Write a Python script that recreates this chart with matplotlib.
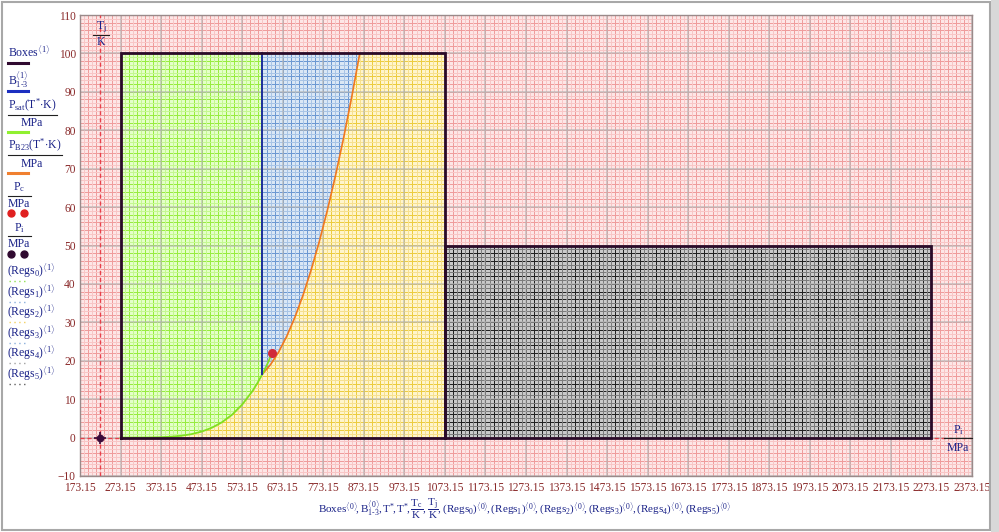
import numpy as np
import matplotlib
matplotlib.use("Agg")
import matplotlib.pyplot as plt
from matplotlib.patches import Polygon, Rectangle
from matplotlib.collections import LineCollection
from matplotlib.lines import Line2D

plt.rcParams['font.family'] = ['Liberation Serif', 'DejaVu Serif']
plt.rcParams['mathtext.fontset'] = 'custom'
plt.rcParams['mathtext.rm'] = 'Liberation Serif'
plt.rcParams['mathtext.it'] = 'Liberation Serif'
plt.rcParams['mathtext.bf'] = 'Liberation Serif:bold'

# ---------------- data ----------------
x_ticks = [173.15 + 100 * i for i in range(23)]
y_ticks = list(range(-10, 111, 10))

# saturation line (T [K], P [MPa])
psat_T = [273.15, 298.15, 323.15, 348.15, 373.15, 398.15, 423.15, 448.15, 473.15,
          498.15, 523.15, 548.15, 573.15, 598.15, 610.15, 623.15, 635.15, 647.096]
psat_P = [0.0006, 0.0032, 0.0124, 0.0386, 0.1014, 0.2321, 0.4762, 0.8926, 1.555,
          2.550, 3.976, 5.942, 8.588, 12.045, 14.08, 16.529, 19.13, 22.064]

# B23 boundary
b23_T = [623.15, 643.15, 663.15, 683.15, 703.15, 723.15, 743.15, 763.15, 783.15,
         803.15, 823.15, 843.15, 863.15]
b23_P = [16.53, 19.01, 22.29, 26.39, 31.30, 37.04, 43.59, 50.95, 59.13,
         68.12, 77.93, 88.56, 100.0]

# boxes: (Tmin, Tmax, Pmin, Pmax)
box_low = (273.15, 1073.15, 0.0, 100.0)
box_high = (1073.15, 2273.15, 0.0, 50.0)
T_13 = 623.15             # region 1/3 boundary temperature
P_13 = 16.529
crit = (647.096, 22.064)  # critical point
pt_i = (223.15, 0.0)      # marked point

# ---------------- figure ----------------
W, H = 999, 532
fig = plt.figure(figsize=(W / 100, H / 100), dpi=100)
fig.patch.set_facecolor('white')
ax = fig.add_axes([80 / W, (H - 476) / H, (972 - 80) / W, (476 - 15) / H])
ax.set_xlim(173.15, 2373.15)
ax.set_ylim(-10, 110)
ax.set_facecolor('#fde4e4')

xlo, xhi = 173.15, 2373.15
ylo, yhi = -10, 110


def textured(poly_xy, base, line_col, line_col2, z=1):
    patch = Polygon(poly_xy, closed=True, facecolor=base, edgecolor='none', zorder=z)
    ax.add_patch(patch)
    segs1, segs2 = [], []
    for i, xv in enumerate(np.arange(xlo + 0.01, xhi, 10.0)):
        (segs1 if i % 2 == 0 else segs2).append([(xv, ylo), (xv, yhi)])
    for i, yv in enumerate(np.arange(ylo + 0.01, yhi, 1.0)):
        (segs1 if i % 2 == 0 else segs2).append([(xlo, yv), (xhi, yv)])
    for segs, c in ((segs1, line_col), (segs2, line_col2)):
        lc = LineCollection(segs, colors=c, linewidths=0.72, zorder=z + 0.1,
                            antialiaseds=False)
        ax.add_collection(lc)
        lc.set_clip_path(patch)


# background texture
bg = [(xlo, ylo), (xhi, ylo), (xhi, yhi), (xlo, yhi)]
textured(bg, '#fde6e6', '#ef9c9c', '#f8c6c6', z=0.5)

# green region (region 1): above saturation line
green = [(box_low[0], box_low[3])]
green += [(t, p) for t, p in zip(psat_T, psat_P) if t <= T_13]
green += [(T_13, box_low[3])]
textured(green, '#e4ffc8', '#98ec40', '#c4f890', z=1)

# blue region (region 3)
blue = [(T_13, box_low[3])] + [(t, p) for t, p in zip(b23_T, b23_P)]
textured(blue, '#dae7f5', '#6c98d2', '#a8c4e6', z=1)

# yellow region (region 2)
yellow = [(box_low[0], 0.0)]
yellow += [(t, p) for t, p in zip(psat_T, psat_P) if t < T_13]
yellow += [(t, p) for t, p in zip(b23_T, b23_P)]
yellow += [(box_low[1], box_low[3]), (box_low[1], 0.0)]
textured(yellow, '#fff5cc', '#eccc40', '#f6e090', z=1)

# gray region (region 5)
gray = [(box_high[0], box_high[2]), (box_high[1], box_high[2]),
        (box_high[1], box_high[3]), (box_high[0], box_high[3])]
textured(gray, '#cacaca', '#222222', '#7c7c7c', z=1)

# major grid
for xv in x_ticks:
    ax.axvline(xv, color='#b4b4b4', lw=1.4, alpha=0.6, zorder=2)
for yv in y_ticks:
    ax.axhline(yv, color='#b4b4b4', lw=1.4, alpha=0.6, zorder=2)

# marker lines for point
ax.axvline(pt_i[0], color='#e8404a', lw=1.0, ls=(0, (3, 2)), zorder=3)
ax.axhline(pt_i[1], color='#e8404a', lw=1.0, ls=(0, (3, 2)), zorder=3)

# curves
ax.plot(b23_T, b23_P, color='#f07820', lw=1.2, zorder=5)
ax.plot(psat_T, psat_P, color='#80e020', lw=1.3, zorder=5)
ax.plot([T_13, T_13], [P_13, box_low[3]], color='#1c2f9a', lw=1.4, zorder=5)

# boxes
for (t0, t1, p0, p1) in (box_low, box_high):
    ax.plot([t0, t1, t1, t0, t0], [p0, p0, p1, p1, p0], color='#2a0a28', lw=2.0, zorder=6,
            solid_joinstyle='miter')

ax.plot([crit[0]], [crit[1]], 'o', color='#d02a3a', ms=5.5, zorder=7)
ax.plot([pt_i[0]], [pt_i[1]], 'o', color='#3a0a3a', ms=4.5, zorder=7)
ax.plot([pt_i[0]], [pt_i[1]], '+', color='#3a0a3a', ms=8, mew=1.2, zorder=7)

ax.set_xticks(x_ticks)
ax.set_xticklabels([f"{v:.2f}" for v in x_ticks])
ax.set_yticks(y_ticks)
ax.set_yticklabels([f"{v}" if v >= 0 else "\u221210" for v in y_ticks])
ax.tick_params(length=0, labelsize=8.3, colors='#8a2a2a', pad=3)
ax.tick_params(axis='x', pad=4)
for s in ax.spines.values():
    s.set_color('#9a8a8a')
    s.set_linewidth(1.0)
ax.grid(False)

# ---------------- labels ----------------
tc = '#1a2288'
fs = 8.5


def fx(px):
    return px / W


def fy(py):
    return 1 - py / H


# y label top
fig.text(fx(101), fy(27), r'$\mathrm{T_j}$', color=tc, fontsize=fs, ha='center', va='center')
fig.add_artist(Line2D([fx(93), fx(109)], [fy(35), fy(35)], color='#202020', lw=0.8))
fig.text(fx(101), fy(42), 'K', color=tc, fontsize=fs, ha='center', va='center')

# right label
fig.text(fx(958), fy(430), r'$\mathrm{P_i}$', color=tc, fontsize=fs, ha='center', va='center')
fig.add_artist(Line2D([fx(944), fx(972)], [fy(438), fy(438)], color='#202020', lw=0.8))
fig.text(fx(958), fy(448), 'MPa', color=tc, fontsize=fs, ha='center', va='center')

# bottom label
xl = (r'$\mathrm{Boxes}^{\langle 0\rangle}\!,\mathrm{B}_{1\text{-}3}^{\langle 0\rangle}\!,\mathrm{T}^{*}\!,'
      r'\mathrm{T}^{*}\!,\dfrac{\mathrm{T_c}}{\mathrm{K}},\dfrac{\mathrm{T_j}}{\mathrm{K}},'
      r'(\mathrm{Regs}_0)^{\langle 0\rangle}\!,(\mathrm{Regs}_1)^{\langle 0\rangle}\!,'
      r'(\mathrm{Regs}_2)^{\langle 0\rangle}\!,(\mathrm{Regs}_3)^{\langle 0\rangle}\!,'
      r'(\mathrm{Regs}_4)^{\langle 0\rangle}\!,(\mathrm{Regs}_5)^{\langle 0\rangle}$')
fig.text(fx(525), fy(509), xl, color=tc, fontsize=8, ha='center', va='center')


# legend
def lgline(y, color, x0=8, x1=28, lw=2.2):
    fig.add_artist(Line2D([fx(x0), fx(x1)], [fy(y), fy(y)], color=color, lw=lw))


def bar(y, x0, x1):
    fig.add_artist(Line2D([fx(x0), fx(x1)], [fy(y), fy(y)], color='#202020', lw=0.8))


fig.text(fx(8), fy(52), r'$\mathrm{Boxes}^{\langle 1\rangle}$', color=tc, fontsize=fs, va='center')
lgline(63, '#300a30')
fig.text(fx(8), fy(79), r'$\mathrm{B}_{1\text{-}3}^{\langle 1\rangle}$', color=tc, fontsize=fs, va='center')
lgline(91, '#1c2fc0')
fig.text(fx(8), fy(105), r'$\mathrm{P_{sat}(T^{*}{\cdot}K)}$', color=tc, fontsize=fs, va='center')
bar(115, 8, 57)
fig.text(fx(32), fy(123), 'MPa', color=tc, fontsize=fs, ha='center', va='center')
lgline(132, '#90f030')
fig.text(fx(8), fy(145), r'$\mathrm{P_{B23}(T^{*}{\cdot}K)}$', color=tc, fontsize=fs, va='center')
bar(155, 8, 62)
fig.text(fx(32), fy(164), 'MPa', color=tc, fontsize=fs, ha='center', va='center')
lgline(173, '#f08030')
fig.text(fx(19), fy(187), r'$\mathrm{P_c}$', color=tc, fontsize=fs, ha='center', va='center')
bar(196, 8, 31)
fig.text(fx(19), fy(204), 'MPa', color=tc, fontsize=fs, ha='center', va='center')
fig.add_artist(Line2D([fx(11), fx(24)], [fy(213), fy(213)], color='#e02020', lw=0,
                      marker='o', ms=5))
fig.text(fx(19), fy(228), r'$\mathrm{P_i}$', color=tc, fontsize=fs, ha='center', va='center')
bar(236, 8, 31)
fig.text(fx(19), fy(244), 'MPa', color=tc, fontsize=fs, ha='center', va='center')
fig.add_artist(Line2D([fx(11), fx(24)], [fy(254), fy(254)], color='#300a30', lw=0,
                      marker='o', ms=5))
reg_cols = ['#90e050', '#8aaedb', '#f2d060', '#8aaedb', '#a0a0a0', '#606060']
for i, yy in enumerate([270, 291, 311, 332, 352, 373]):
    fig.text(fx(7), fy(yy), r'$(\mathrm{Regs}_%d)^{\langle 1\rangle}$' % i, color=tc, fontsize=fs,
             va='center')
    fig.add_artist(Line2D([fx(9), fx(27)], [fy(yy + 11), fy(yy + 11)], color=reg_cols[i],
                          lw=1, ls=(0, (1, 2.5))))

# figure border
fig.add_artist(Rectangle((0.002, 0.003), fx(990) - 0.002, 0.994, transform=fig.transFigure,
                         fill=False, edgecolor='#a8a8a8', lw=1.5))
fig.add_artist(Rectangle((fx(991), 0), 1 - fx(991), 1, transform=fig.transFigure,
                         facecolor='#d8d8d8', edgecolor='none'))

fig.savefig('out.png', dpi=100)
